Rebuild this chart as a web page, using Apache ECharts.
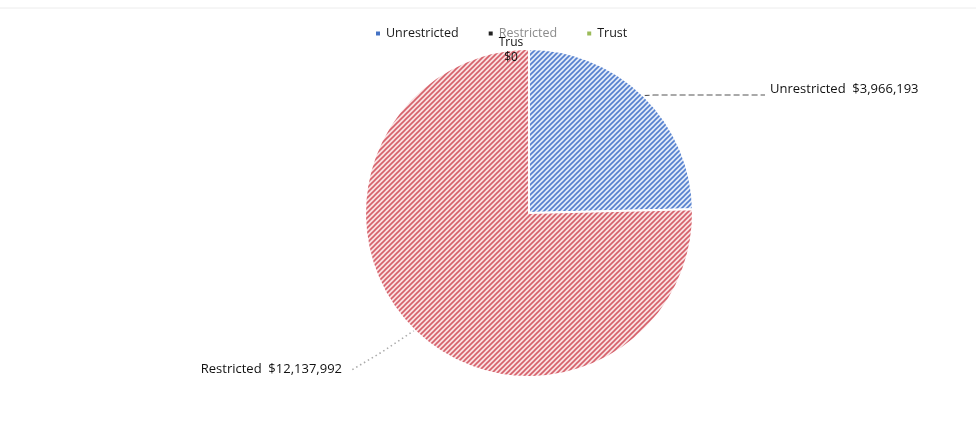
<!DOCTYPE html>
<html>
<head>
<meta charset="utf-8">
<script src="https://cdn.jsdelivr.net/npm/echarts@6/dist/echarts.min.js"></script>
<style>
  html, body { margin: 0; padding: 0; background: #fff; }
  #chart { width: 976px; height: 423px; }
</style>
</head>
<body>
<div id="chart"></div>
<script>
// Fund balances by restriction type
const categories = ['Unrestricted', 'Restricted', 'Trust'];
const amounts = [3966193, 12137992, 0];
const legendColors = ['#4472C4', '#222222', '#9BBB59'];

// Diagonal hatch fill for a slice
function hatch(line, back) {
  const s = 5;
  const c = document.createElement('canvas');
  c.width = s; c.height = s;
  const g = c.getContext('2d');
  g.fillStyle = back;
  g.fillRect(0, 0, s, s);
  g.strokeStyle = line;
  g.lineWidth = 1.6;
  g.beginPath();
  g.moveTo(-1, s + 1); g.lineTo(s + 1, -1);
  g.moveTo(-1, 1); g.lineTo(1, -1);
  g.moveTo(s - 1, s + 1); g.lineTo(s + 1, s - 1);
  g.stroke();
  return { image: c, repeat: 'repeat' };
}

const fills = [hatch('#5580ce', '#e2eaf8'), hatch('#d5606a', '#f9e0e1'), '#9BBB59'];
const money = v => '$' + v.toLocaleString('en-US');
const font = 'Open Sans, sans-serif';

const chart = echarts.init(document.getElementById('chart'), null, { renderer: 'canvas' });

chart.setOption({
  animation: false,
  backgroundColor: '#ffffff',
  legend: {
    top: 22,
    left: 369,
    itemWidth: 6,
    itemHeight: 6,
    itemGap: 28,
    icon: 'rect',
    textStyle: { fontFamily: font, fontSize: 12.5, color: '#1a1a1a' },
    data: categories.map((name, i) => ({
      name,
      itemStyle: { color: legendColors[i] },
      textStyle: i === 1 ? { color: '#8c8c8c' } : {}
    }))
  },
  graphic: [{
    type: 'line',
    shape: { x1: 0, y1: 8, x2: 976, y2: 8 },
    style: { stroke: '#ececec', lineWidth: 1 }
  }],
  series: [{
    type: 'pie',
    center: [529, 213],
    radius: 164,
    startAngle: 90,
    clockwise: true,
    itemStyle: { borderColor: '#ffffff', borderWidth: 2 },
    label: {
      show: true,
      fontFamily: font,
      fontSize: 13,
      color: '#111',
      formatter: p => p.name + '  ' + money(p.value)
    },
    labelLine: { show: true, lineStyle: { color: '#999', width: 1.2 } },
    labelLayout: function (params) {
      const p0 = params.labelLinePoints ? params.labelLinePoints[0] : null;
      if (params.dataIndex === 0) {
        return {
          x: 770, y: 89, align: 'left', verticalAlign: 'middle',
          labelLinePoints: p0 ? [p0, [p0[0] + 10, 95], [765, 95]] : undefined
        };
      }
      if (params.dataIndex === 1) {
        return {
          x: 342, y: 369, align: 'right', verticalAlign: 'middle',
          labelLinePoints: p0 ? [p0, [382, 352], [350, 371]] : undefined
        };
      }
      return { x: 511, y: 50, align: 'center', verticalAlign: 'middle' };
    },
    data: categories.map((name, i) => {
      const d = { name, value: amounts[i], itemStyle: { color: fills[i] } };
      if (i === 0) d.labelLine = { lineStyle: { type: [6, 3], color: '#555' } };
      if (i === 1) d.labelLine = { lineStyle: { type: [1.5, 3], color: '#aaa', width: 1.6 } };
      if (i === 2) {
        d.labelLine = { show: false };
        d.label = {
          formatter: p => p.name + '\n' + money(p.value),
          width: 28, overflow: 'truncate', ellipsis: '',
          lineHeight: 15, fontSize: 12, align: 'center'
        };
      }
      return d;
    })
  }]
});
</script>
</body>
</html>
